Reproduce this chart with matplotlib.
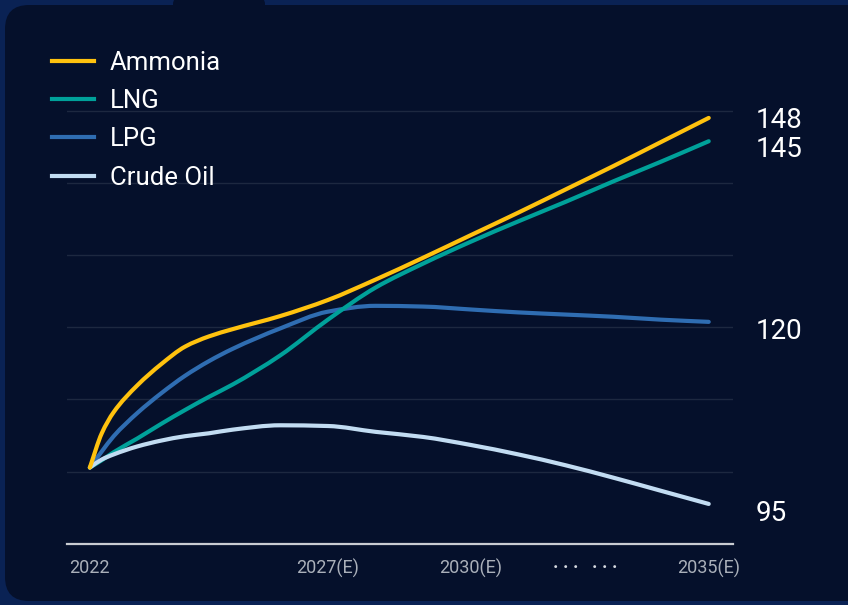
import numpy as np
import matplotlib
matplotlib.use('Agg')
import matplotlib.pyplot as plt
from matplotlib.patches import FancyBboxPatch, PathPatch
from matplotlib.path import Path
from matplotlib.lines import Line2D
from matplotlib.transforms import IdentityTransform

plt.rcParams['font.family'] = ['Roboto', 'DejaVu Sans']

# data (index, 2022 = 100)
years = [2022, 2022.25, 2022.5, 2023, 2023.5, 2024, 2024.5, 2025, 2026,
         2027, 2028, 2029, 2030, 2031, 2032, 2033, 2034, 2035]
ammonia = [100, 104.7, 107.6, 111.3, 114.2, 116.6, 118.0, 119.0, 120.8,
           123.0, 125.8, 128.8, 131.9, 135.0, 138.2, 141.4, 144.7, 148.0]
lng = [100, 101.0, 102.1, 104.0, 106.0, 107.9, 109.7, 111.4, 115.4,
       120.3, 124.7, 128.0, 131.0, 133.8, 136.5, 139.3, 142.0, 144.8]
lpg = [100, 102.2, 104.3, 107.5, 110.2, 112.6, 114.6, 116.3, 119.1,
       121.4, 122.2, 122.1, 121.7, 121.3, 121.0, 120.7, 120.3, 120.0]
crude = [100, 101.1, 101.8, 102.9, 103.7, 104.3, 104.7, 105.2, 105.8,
         105.7, 104.9, 104.2, 103.1, 101.8, 100.3, 98.6, 96.8, 95.0]

series_names = ['Ammonia', 'LNG', 'LPG', 'Crude Oil']
series_vals = [ammonia, lng, lpg, crude]
series_colors = ['#ffc20e', '#00a19a', '#2f6db2', '#c2dcf2']
end_labels = ['148', '145', '120', '95']

tick_years = [2022, 2027, 2030, 2032.4, 2035]
tick_labels = ['2022', '2027(E)', '2030(E)', '· · ·   · · ·', '2035(E)']
grid_vals = [99.4, 109.4, 119.3, 129.2, 139.1, 149.0]

W, H = 848, 605
outer_c = '#0a2254'
card_c = '#05102b'


def smooth_path(xs, ys):
    # monotone cubic through the points, drawn as bezier segments
    xs = np.asarray(xs, float)
    ys = np.asarray(ys, float)
    h = np.diff(xs)
    d = np.diff(ys) / h
    m = np.zeros_like(xs)
    m[0], m[-1] = d[0], d[-1]
    for i in range(1, len(xs) - 1):
        if d[i - 1] * d[i] <= 0:
            m[i] = 0
        else:
            w1 = 2 * h[i] + h[i - 1]
            w2 = h[i] + 2 * h[i - 1]
            m[i] = (w1 + w2) / (w1 / d[i - 1] + w2 / d[i])
    verts = [(xs[0], ys[0])]
    codes = [Path.MOVETO]
    for i in range(len(xs) - 1):
        verts += [(xs[i] + h[i] / 3, ys[i] + m[i] * h[i] / 3),
                  (xs[i + 1] - h[i] / 3, ys[i + 1] - m[i + 1] * h[i] / 3),
                  (xs[i + 1], ys[i + 1])]
        codes += [Path.CURVE4] * 3
    return Path(verts, codes)


fig = plt.figure(figsize=(W / 100, H / 100), dpi=100, facecolor=outer_c)

# dark card with rounded corners + the little tab on top
card = FancyBboxPatch((5, H - 601), 870, 596,
                      boxstyle='round,pad=0,rounding_size=24',
                      transform=IdentityTransform(), fc=card_c, ec='none', zorder=0)
fig.add_artist(card)
tab = FancyBboxPatch((173, H - 14), 92, 16,
                     boxstyle='round,pad=0,rounding_size=6',
                     transform=IdentityTransform(), fc=card_c, ec='none', zorder=0)
fig.add_artist(tab)

ax = fig.add_axes([67 / W, 1 - 544 / H, (733 - 67) / W, (544 - 40) / H])
ax.patch.set_alpha(0)

zorders = [5, 3, 2, 4]
handles = []
for name, vals, col, z in zip(series_names, series_vals, series_colors, zorders):
    p = PathPatch(smooth_path(years, vals), fill=False, ec=col, lw=3, zorder=z,
                  capstyle='round', joinstyle='round')
    ax.add_patch(p)
    handles.append(Line2D([], [], color=col, lw=3, label=name))

# value labels at the right end
nudge = {'148': 0, '145': -3.5}
for vals, lab in zip(series_vals, end_labels):
    ax.annotate(lab, xy=(years[-1], vals[-1]), xytext=(34, nudge.get(lab, -4.5)),
                textcoords='offset points', color='white', fontsize=20,
                ha='left', va='center_baseline', annotation_clip=False)

ax.set_xlim(2021.52, 2035.51)
ax.set_ylim(89.5, 158.7)
ax.set_yticks(grid_vals)
ax.grid(axis='y', color='#1d2840', lw=1.0, zorder=0)
ax.tick_params(axis='y', length=0, labelleft=False)

ax.set_xticks(tick_years)
ax.set_xticklabels(tick_labels)
ax.tick_params(axis='x', length=0, pad=11, labelsize=13, labelcolor='#aab0ba')
dots = ax.get_xticklabels()[3]
dots.set_color('#d4d8de')
dots.set_fontweight('bold')

for s in ['top', 'right', 'left']:
    ax.spines[s].set_visible(False)
ax.spines['bottom'].set_color('#c9ccd2')
ax.spines['bottom'].set_linewidth(1.6)

leg = ax.legend(handles=handles, loc='upper left', bbox_to_anchor=(52 / W, 1 - 50.5 / H),
                bbox_transform=fig.transFigure, frameon=False, fontsize=18.5,
                handlelength=1.65, handletextpad=0.6, labelspacing=0.56,
                borderpad=0, borderaxespad=0)
for t in leg.get_texts():
    t.set_color('white')

fig.savefig('out.png', dpi=100, facecolor=fig.get_facecolor())
